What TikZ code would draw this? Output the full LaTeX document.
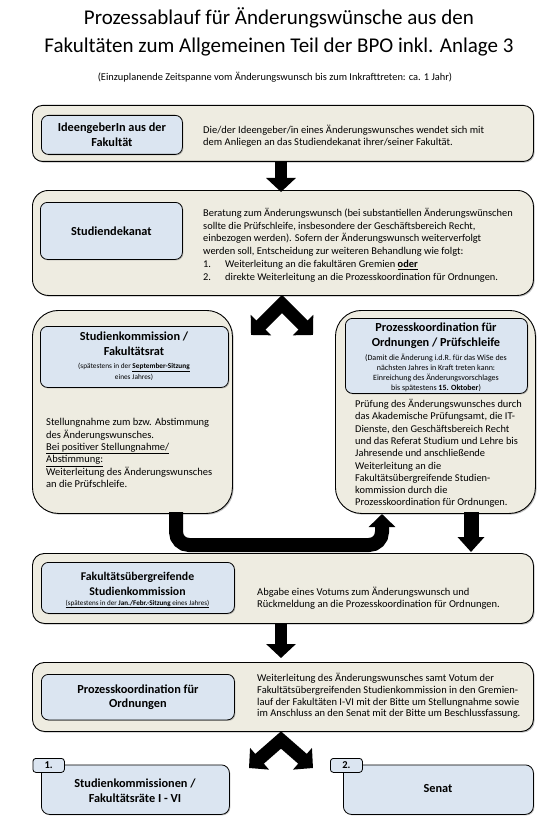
\documentclass[tikz,border=0pt]{standalone}
\usepackage{fontspec}
\setmainfont{Carlito}
\usetikzlibrary{arrows.meta,shadows}
\definecolor{beige}{HTML}{EEECE1}
\definecolor{lblue}{HTML}{DBE5F1}
\begin{document}
\begin{tikzpicture}[x=1pt,y=-1pt,
  outerbox/.style={draw=black, line width=0.9pt, fill=beige, inner sep=0pt, anchor=north west,
    drop shadow={shadow xshift=1.2pt, shadow yshift=-1.2pt, opacity=0.5}},
  innerbox/.style={draw=black, line width=0.8pt, fill=lblue, rounded corners=7pt, inner sep=0pt, anchor=north west,
    drop shadow={shadow xshift=1pt, shadow yshift=-1pt, opacity=0.45}},
  tabbox/.style={draw=black, line width=0.8pt, fill=lblue, rounded corners=3pt, inner sep=0pt, anchor=north west,
    font=\bfseries\fontsize{10.5}{12}\selectfont},
  headtext/.style={font=\bfseries\fontsize{12.3}{14.8}\selectfont, align=center, inner sep=0pt},
  bodytext/.style={font=\fontsize{10.5}{11.8}\selectfont, align=left, inner sep=0pt, anchor=west},
  smalltext/.style={font=\fontsize{7.3}{10.5}\selectfont, align=center, inner sep=0pt},
  barrow/.style={line width=12pt, -{Triangle[width=29pt,length=14pt]}},
  bentarrow/.style={line width=14pt, rounded corners=13pt, -{Triangle[width=26pt,length=13pt]}},
  splitarrow/.style={line width=13pt, line join=miter, {Triangle[width=28pt,length=14pt]}-{Triangle[width=28pt,length=14pt]}}
]
\useasboundingbox (0,0) rectangle (550,821);

% title
\node[font=\fontsize{21}{27.5}\selectfont, align=center, inner sep=0pt] (title) at (279,32)
  {Prozessablauf für Änderungswünsche aus den\\Fakultäten zum Allgemeinen Teil der BPO inkl. Anlage 3};
\node[font=\fontsize{10.4}{12}\selectfont, inner sep=0pt] (subtitle) at (275,77)
  {(Einzuplanende Zeitspanne vom Änderungswunsch bis zum Inkrafttreten: ca. 1 Jahr)};

% box 1
\node[outerbox, rounded corners=10pt, minimum width=501pt, minimum height=56pt] (b1) at (32,105) {};
\node[innerbox, minimum width=141pt, minimum height=39pt] (b1i) at (41,115) {};
\node[headtext] (b1h) at (b1i.center) {IdeengeberIn aus der\\Fakultät};
\node[bodytext] (b1t) at (203,136) {Die/der Ideengeber/in eines Änderungswunsches wendet sich mit\\dem Anliegen an das Studiendekanat ihrer/seiner Fakultät.};

% box 2
\node[outerbox, rounded corners=16pt, minimum width=501pt, minimum height=105pt] (b2) at (32,190) {};
\node[innerbox, minimum width=142pt, minimum height=57pt] (b2i) at (40,202) {};
\node[headtext] (b2h) at (b2i.center) {Studiendekanat};
\node[bodytext, font=\fontsize{10.4}{12.8}\selectfont] (b2t) at (203,245) {Beratung zum Änderungswunsch (bei substantiellen Änderungswünschen\\
sollte die Prüfschleife, insbesondere der Geschäftsbereich Recht,\\
einbezogen werden). Sofern der Änderungswunsch weiterverfolgt\\
werden soll, Entscheidung zur weiteren Behandlung wie folgt:\\
\makebox[22pt][l]{1.}Weiterleitung an die fakultären Gremien \textbf{\underline{oder}}\\
\makebox[22pt][l]{2.}direkte Weiterleitung an die Prozesskoordination für Ordnungen.};

% box 3 left
\node[outerbox, rounded corners=26pt, minimum width=200pt, minimum height=203pt] (b3l) at (32,310) {};
\node[innerbox, minimum width=188pt, minimum height=61pt] (b3li) at (40,326) {};
\node[headtext] (b3lh) at (134,344) {Studienkommission /\\Fakultätsrat};
\node[smalltext] (b3ls) at (134,372) {(spätestens in der \textbf{\underline{September-Sitzung}}\\eines Jahres)};
\node[bodytext, font=\fontsize{10.5}{12.3}\selectfont] (b3lt) at (46,453) {\makebox[163pt][s]{Stellungnahme zum bzw. Abstimmung}\\
des Änderungswunsches.\\
\underline{Bei positiver Stellungnahme/}\\
\underline{Abstimmung:}\\
Weiterleitung des Änderungswunsches\\
an die Prüfschleife.};

% box 3 right
\node[outerbox, rounded corners=26pt, minimum width=200pt, minimum height=203pt] (b3r) at (335,310) {};
\node[innerbox, minimum width=182pt, minimum height=75pt] (b3ri) at (345,318) {};
\node[headtext] (b3rh) at (436,335.5) {Prozesskoordination für\\Ordnungen / Prüfschleife};
\node[smalltext, font=\fontsize{8}{10}\selectfont] (b3rs) at (436,373) {(Damit die Änderung i.d.R. für das WiSe des\\nächsten Jahres in Kraft treten kann:\\Einreichung des Änderungsvorschlages\\bis spätestens \textbf{15. Oktober})};
\node[bodytext, font=\fontsize{10.4}{12.3}\selectfont] (b3rt) at (355,453.5) {Prüfung des Änderungswunsches durch\\
das Akademische Prüfungsamt, die IT-\\
Dienste, den Geschäftsbereich Recht\\
und das Referat Studium und Lehre bis\\
Jahresende und anschließende\\
Weiterleitung an die\\
Fakultätsübergreifende Studien-\\
kommission durch die\\
Prozesskoordination für Ordnungen.};

% box 4
\node[outerbox, rounded corners=12pt, minimum width=501pt, minimum height=70pt] (b4) at (32,553) {};
\node[innerbox, minimum width=193pt, minimum height=51pt] (b4i) at (41,562) {};
\node[headtext, font=\bfseries\fontsize{11.8}{14.8}\selectfont] (b4h) at (137.5,583.5) {Fakultätsübergreifende\\Studienkommission};
\node[smalltext, font=\fontsize{7.1}{9}\selectfont] (b4s) at (137.5,604) {\underline{(spätestens in der \textbf{Jan./Febr.-Sitzung} eines Jahres)}};
\node[bodytext, font=\fontsize{10.5}{12}\selectfont] (b4t) at (257,598) {Abgabe eines Votums zum Änderungswunsch und\\Rückmeldung an die Prozesskoordination für Ordnungen.};

% box 5
\node[outerbox, rounded corners=12pt, minimum width=501pt, minimum height=69pt] (b5) at (32,662) {};
\node[innerbox, minimum width=193pt, minimum height=45.5pt] (b5i) at (41,674) {};
\node[headtext] (b5h) at (b5i.center) {Prozesskoordination für\\Ordnungen};
\node[bodytext, font=\fontsize{10.5}{11.6}\selectfont] (b5t) at (257,696) {Weiterleitung des Änderungswunsches samt Votum der\\
Fakultätsübergreifenden Studienkommission in den Gremien-\\
lauf der Fakultäten I-VI mit der Bitte um Stellungnahme sowie\\
im Anschluss an den Senat mit der Bitte um Beschlussfassung.};

% bottom boxes
\node[innerbox, rounded corners=8pt, minimum width=188pt, minimum height=49.5pt] (b6l) at (41,764.5) {};
\node[headtext] (b6lh) at (135,790.5) {Studienkommissionen /\\Fakultätsräte I - VI};
\node[tabbox, minimum width=31.5pt, minimum height=14pt] (tab1) at (32.5,758) {1.};
\node[innerbox, rounded corners=8pt, minimum width=190pt, minimum height=49.5pt] (b6r) at (343,764.5) {};
\node[headtext] (b6rh) at (438,789) {Senat};
\node[tabbox, minimum width=32pt, minimum height=14pt] (tab2) at (330,758) {2.};

% arrows
\draw[barrow] (b1.south -| 281,0) -- (281,192);
\coordinate (s1a) at (282,304);
\coordinate (s1l) at (251,335);
\coordinate (s1r) at (313,335);
\draw[splitarrow] (s1l) -- (s1a) -- (s1r);

\coordinate (bs) at (176,512);
\coordinate (bc1) at (176,545);
\coordinate (bc2) at (382,545);
\coordinate (be) at (382,514);
\draw[bentarrow] (bs) -- (bc1) -- (bc2) -- (be);

\draw[line width=15pt, -{Triangle[width=26pt,length=15pt]}] (471,512) -- (471,552);

\draw[barrow] (281,623) -- (281,658);

\coordinate (s2a) at (281,740);
\coordinate (s2l) at (249,768);
\coordinate (s2r) at (313,768);
\draw[splitarrow] (s2l) -- (s2a) -- (s2r);
\end{tikzpicture}
\end{document}
